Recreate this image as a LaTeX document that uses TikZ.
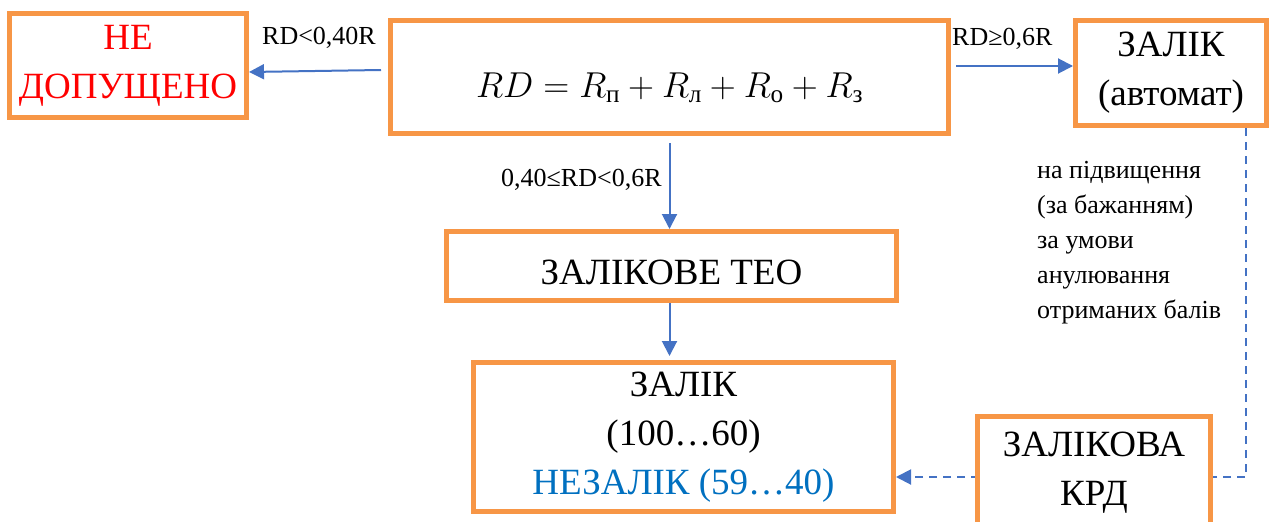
\RequirePackage{fix-cm}
\documentclass[tikz,border=0pt]{standalone}
\usepackage{amsmath}
\usepackage{fontspec}
\setmainfont{Liberation Serif}
\usetikzlibrary{arrows.meta,calc}
\definecolor{boxorange}{RGB}{247,150,70}
\definecolor{arrowblue}{RGB}{68,114,196}
\definecolor{txtblue}{RGB}{0,112,192}
\definecolor{txtred}{RGB}{255,0,0}
\begin{document}
\begin{tikzpicture}[x=1pt,y=-1pt,
  box/.style={draw=boxorange,line width=5pt,fill=white,inner sep=0pt,align=center,font=\fontsize{37}{49}\selectfont},
  conn/.style={draw=arrowblue,line width=2pt,-{Triangle[length=15pt,width=15pt]}},
  dconn/.style={conn,dash pattern=on 8pt off 6pt},
  lbl/.style={inner sep=0pt,font=\fontsize{26}{35}\selectfont}]
\useasboundingbox (0,0) rectangle (1269,522);
\clip (0,0) rectangle (1269,522);
% boxes
\node[box,minimum width=237pt,minimum height=104pt,text=txtred] (nd) at (128,65.5) {НЕ\\ДОПУЩЕНО};
\node[box,minimum width=558pt,minimum height=113pt,text height=44pt,text depth=4pt,font=\fontsize{36}{42}\selectfont] (f) at (669.5,77) {$RD = R_{\text{п}} + R_{\text{л}} + R_{\text{о}} + R_{\text{з}}$};
\node[box,minimum width=191pt,minimum height=105pt] (avt) at (1171,73) {ЗАЛІК\\(автомат)};
\node[box,minimum width=450pt,minimum height=69pt,text height=40pt,text depth=4pt] (teo) at (671.5,266) {ЗАЛІКОВЕ ТЕО};
\node[box,minimum width=420pt,minimum height=149pt] (zal) at (683.5,437) {ЗАЛІК\\(100…60)\\\textcolor{txtblue}{НЕЗАЛІК (59…40)}};
% labels
\node[lbl,anchor=base west] (l1) at (262,44) {RD<0,40R};
\node[lbl,anchor=base west] (l2) at (952,45) {RD≥0,6R};
\node[lbl,anchor=base west] (l3) at (501,186) {0,40≤RD<0,6R};
\node[lbl,anchor=north west,align=left] (l4) at (1037,161) {на підвищення\\(за бажанням)\\за умови\\анулювання\\отриманих балів};
% connectors
\draw[conn] ($(f.west)+(-7,-7)$) -- ($(nd.east)+(0,6.5)$);
\draw[conn] ($(f.east)+(5,-11)$) coordinate (a2s) -- (a2s -| avt.west);
\draw[conn] ($(f.south)+(0,7)$) -- (f.south |- teo.north);
\draw[conn] (teo.south -| f.south) -- ($(f.south |- zal.north)+(0,-4)$);
\coordinate (dc) at (1246,477);
\draw[dconn] (avt.south -| dc) -- (dc) -- (zal.east |- dc);
\node[box,minimum width=233pt,minimum height=112pt] (krd) at (1094,472.5) {ЗАЛІКОВА\\КРД};
\end{tikzpicture}
\end{document}
